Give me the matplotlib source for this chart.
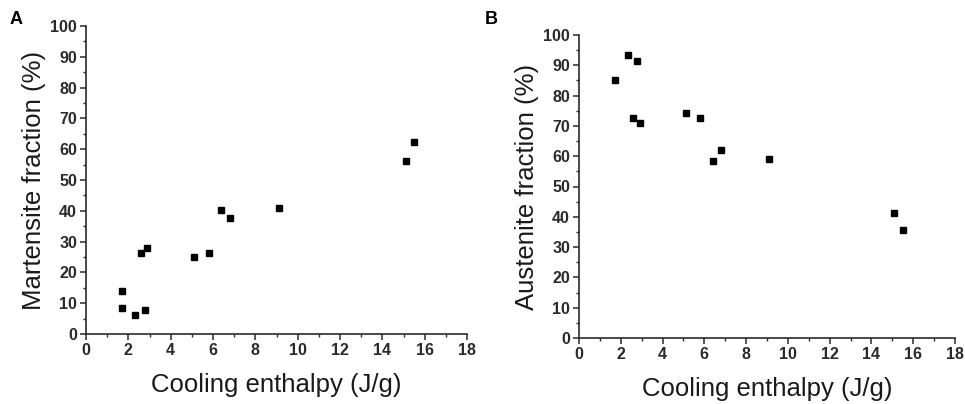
import matplotlib
matplotlib.use('Agg')
import matplotlib.pyplot as plt
from matplotlib.ticker import MultipleLocator

plt.rcParams['font.family'] = ['Liberation Sans', 'DejaVu Sans']

# Panel A - martensite fraction vs cooling enthalpy
enth_a = [1.7, 1.7, 2.3, 2.6, 2.8, 2.9, 5.1, 5.8, 6.4, 6.8, 9.1, 15.1, 15.5]
mart = [13.9, 8.5, 6.2, 26.4, 7.8, 27.9, 24.9, 26.2, 40.1, 37.8, 40.8, 56.2, 62.2]

# Panel B - austenite fraction vs cooling enthalpy
enth_b = [1.7, 2.35, 2.8, 2.6, 2.9, 5.1, 5.8, 6.4, 6.8, 9.1, 15.1, 15.5]
aust = [85.1, 93.4, 91.5, 72.5, 71.0, 74.3, 72.7, 58.5, 62.1, 59.2, 41.3, 35.8]

W, H = 965, 404
fig = plt.figure(figsize=(W / 100, H / 100), dpi=100)

def box(l, t, r, b):
    return [l / W, 1 - b / H, (r - l) / W, (b - t) / H]

ax1 = fig.add_axes(box(86, 26, 467, 334))
ax2 = fig.add_axes(box(579, 35, 955, 338))

tc = '#2a2a2a'
for ax, x, y, lab in [(ax1, enth_a, mart, 'Martensite fraction (%)'),
                      (ax2, enth_b, aust, 'Austenite fraction (%)')]:
    ax.plot(x, y, 's', color='black', markersize=5, linestyle='')
    ax.set_xlim(0, 18)
    ax.set_ylim(0, 100)
    ax.xaxis.set_major_locator(MultipleLocator(2))
    ax.xaxis.set_minor_locator(MultipleLocator(1))
    ax.yaxis.set_major_locator(MultipleLocator(10))
    ax.yaxis.set_minor_locator(MultipleLocator(5))
    ax.spines['top'].set_visible(False)
    ax.spines['right'].set_visible(False)
    for s in ['left', 'bottom']:
        ax.spines[s].set_linewidth(1.2)
        ax.spines[s].set_color(tc)
    ax.tick_params(which='major', direction='out', length=4.5, width=1.1, color=tc,
                   labelsize=11.5, labelcolor=tc, pad=2)
    ax.tick_params(which='minor', direction='out', length=2.5, width=1.0, color=tc)
    for t in ax.get_xticklabels() + ax.get_yticklabels():
        t.set_fontweight('bold')
    ax.set_xlabel('Cooling enthalpy (J/g)', fontsize=18.5, color='#1a1a1a', labelpad=11)
    ax.set_ylabel(lab, fontsize=18.5, color='#1a1a1a', labelpad=3)

fig.text(10 / W, 1 - 20 / H, 'A', fontsize=13, fontweight='bold', va='center')
fig.text(485 / W, 1 - 20 / H, 'B', fontsize=13, fontweight='bold', va='center')

fig.savefig('out.png', dpi=100)
